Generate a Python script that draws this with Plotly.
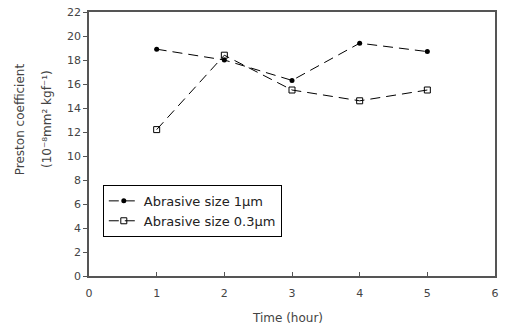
import plotly.graph_objects as go

time_h = [1, 2, 3, 4, 5]
size_1um = [18.9, 18.0, 16.3, 19.4, 18.7]
size_03um = [12.2, 18.4, 15.5, 14.6, 15.5]
series_names = ["Abrasive size 1μm", "Abrasive size 0.3μm"]
x_ticks = [0, 1, 2, 3, 4, 5, 6]
y_ticks = [0, 2, 4, 6, 8, 10, 12, 14, 16, 18, 20, 22]
y_title_lines = ["Preston coefficient", "(10⁻⁸mm² kgf⁻¹)"]
x_title = "Time (hour)"

fig = go.Figure()
fig.add_trace(go.Scatter(
    x=time_h, y=size_1um, name=series_names[0], mode="lines+markers",
    line=dict(color="black", width=1, dash="10px,6px"),
    marker=dict(symbol="circle", size=5, color="black"),
))
fig.add_trace(go.Scatter(
    x=time_h, y=size_03um, name=series_names[1], mode="lines+markers",
    line=dict(color="black", width=1, dash="10px,6px"),
    marker=dict(symbol="square-open", size=6, color="black", line=dict(width=1)),
))

font = dict(family="DejaVu Sans", size=11, color="#444")
fig.update_layout(
    width=505, height=331,
    margin=dict(l=89, r=6, t=8, b=55),
    paper_bgcolor="white", plot_bgcolor="white",
    font=font,
    showlegend=True,
    legend=dict(
        x=0.034, y=0.345, xanchor="left", yanchor="top",
        bgcolor="white", bordercolor="black", borderwidth=1,
        font=dict(family="DejaVu Sans", size=13, color="#222"),
        itemwidth=30, tracegroupgap=0,
    ),
    xaxis=dict(
        range=[0, 6], tickvals=x_ticks, ticktext=[str(v) for v in x_ticks],
        ticks="inside", ticklen=4, tickcolor="#555", ticklabelstandoff=6,
        showline=True, linecolor="#555", linewidth=1.5, mirror=True,
        showgrid=False, zeroline=False,
    ),
    yaxis=dict(
        range=[0, 22], tickvals=y_ticks, ticktext=[str(v) for v in y_ticks],
        ticks="outside", ticklen=4, tickcolor="#555",
        showline=True, linecolor="#555", linewidth=1.5, mirror=True,
        showgrid=False, zeroline=False,
    ),
    annotations=[
        dict(text=y_title_lines[0], xref="paper", yref="paper", x=-0.168, y=0.593,
             textangle=-90, showarrow=False, xanchor="center", yanchor="middle",
             font=dict(size=12, color="#444")),
        dict(text=y_title_lines[1], xref="paper", yref="paper", x=-0.102, y=0.593,
             textangle=-90, showarrow=False, xanchor="center", yanchor="middle",
             font=dict(size=12, color="#444")),
        dict(text=x_title, xref="paper", yref="paper", x=0.49, y=-0.16,
             showarrow=False, xanchor="center", yanchor="middle",
             font=dict(size=12, color="#444")),
    ],
)
fig.write_html("out.html")
